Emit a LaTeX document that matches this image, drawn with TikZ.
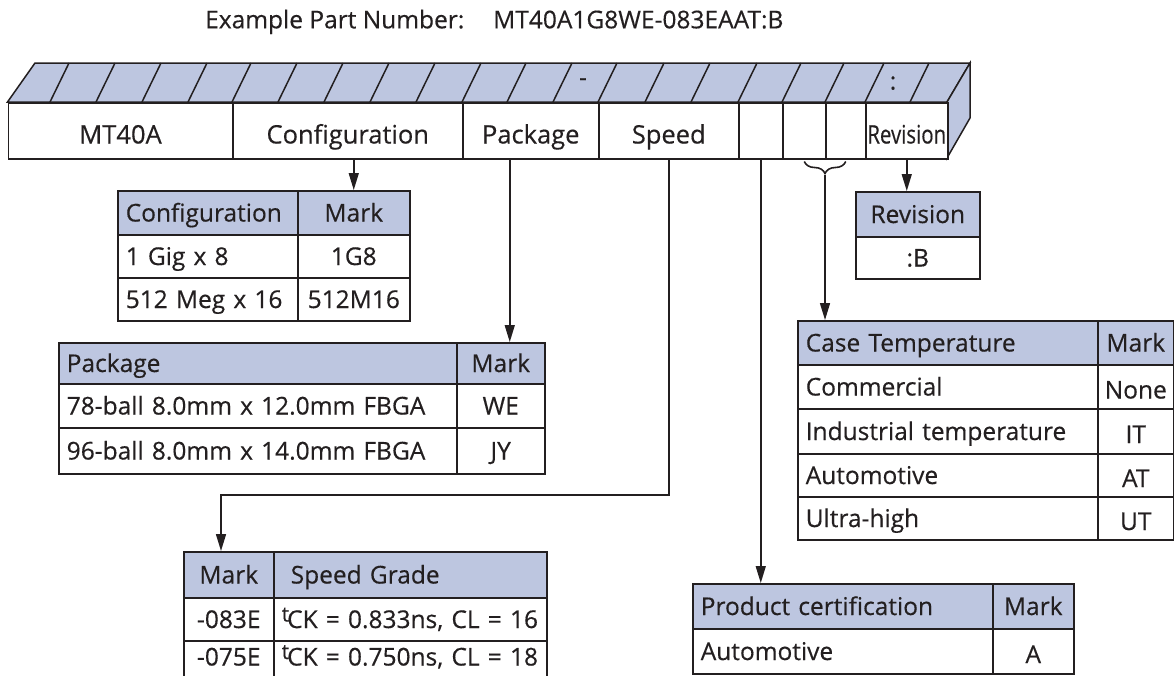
\documentclass[tikz,border=0pt]{standalone}
\usepackage{fontspec}
\setmainfont{Open Sans}[FakeBold=0.4]
\usetikzlibrary{arrows.meta,decorations.pathreplacing}

\definecolor{partblue}{RGB}{189,198,224}
\definecolor{ink}{RGB}{35,31,32}

% table cell: name, x1, y1, x2, y2, style, text
\newcommand{\tcell}[7]{%
  \pgfmathsetmacro{\cellw}{#4-#2-16}%
  \pgfmathsetmacro{\cellh}{#5-#3}%
  \node[cell, #6, text width=\cellw pt, minimum height=\cellh pt, anchor=north west] (#1) at (#2,#3) {#7};}
\newcommand{\tck}{\raisebox{6.5pt}{\fontsize{21}{21}\selectfont t}\kern-2pt}
\newcommand{\lowmark}[1]{\raisebox{-3pt}{\makebox[0pt]{#1}}}

\begin{document}
\begin{tikzpicture}[x=1pt, y=-1pt,
    every node/.style={font=\fontsize{24.5}{28}\selectfont, text=ink},
    cell/.style={draw=ink, line width=1.5pt, inner xsep=8pt, inner ysep=0pt, text height=17.5pt, text depth=0pt},
    hl/.style={fill=partblue, align=left},
    hc/.style={fill=partblue, align=center},
    bl/.style={fill=white, align=left},
    bc/.style={fill=white, align=center},
    bar/.style={fill=white, align=center, text height=25.5pt, font=\fontsize{25.5}{29}\selectfont},
    conn/.style={draw=ink, line width=1.5pt, -{Triangle[length=17pt,width=10pt]}},
    brace/.style={draw=ink, line width=1.6pt, decorate, decoration={brace, mirror, amplitude=12pt}}]
    \clip (0,0) rectangle (1174,675);

    \node[anchor=base west, inner sep=0pt] (title) at (205,28.3) {Example Part Number:};
    \node[anchor=base west, inner sep=0pt] (partno) at (493,28.3) {MT40A1G8WE-083EAAT:B};

    % the bar
    \draw[draw=ink, line width=1.5pt, fill=partblue] (7.5,102) -- (35,63) -- (970,63) -- (947,102) -- cycle;
    \draw[draw=ink, line width=1.5pt, fill=partblue] (947,102) -- (970,63) -- (970,118) -- (947,158) -- cycle;
    \foreach \x in {50,96,142,188,232,278,324,370,416,462,507,553,598,645,691,738,782,825,865,910}
        \draw[ink, line width=1.5pt] (\x,102) -- (\x+19,63);
    \node (dash) at (583,82) {-};
    \node (colon) at (893,83) {:};

    \tcell{mt}{7.5}{102}{232}{158}{bar}{MT40A}
    \tcell{conf}{232}{102}{462}{158}{bar}{Configuration}
    \tcell{pack}{462}{102}{598}{158}{bar}{Package}
    \tcell{speed}{598}{102}{738}{158}{bar}{Speed}
    \tcell{sfx1}{738}{102}{782}{158}{bar}{}
    \tcell{sfx2}{782}{102}{825}{158}{bar}{}
    \tcell{sfx3}{825}{102}{865}{158}{bar}{}
    \tcell{rev}{865}{102}{947}{158}{bar}{\makebox[0pt]{\scalebox{0.8}[1]{Revision}}}

    % configuration
    \tcell{cfgh}{117}{190}{297}{234}{hl}{Configuration}
    \tcell{cfgmark}{297}{190}{409}{234}{hc}{Mark}
    \tcell{cfga}{117}{234}{297}{277}{bl}{1 Gig x 8}
    \tcell{cfgam}{297}{234}{409}{277}{bc}{1G8}
    \tcell{cfgb}{117}{277}{297}{320}{bl}{512 Meg x 16}
    \tcell{cfgbm}{297}{277}{409}{320}{bc}{512M16}

    % package
    \tcell{pkgh}{58}{342}{456}{383}{hl}{Package}
    \tcell{pkgmark}{456}{342}{544}{383}{hc}{Mark}
    \tcell{pkga}{58}{383}{456}{427}{bl}{78-ball 8.0mm x 12.0mm FBGA}
    \tcell{pkgam}{456}{383}{544}{427}{bc}{WE}
    \tcell{pkgb}{58}{427}{456}{473}{bl}{96-ball 8.0mm x 14.0mm FBGA}
    \tcell{pkgbm}{456}{427}{544}{473}{bc}{JY}

    % speed
    \tcell{spdmark}{183}{551}{273}{597}{hc}{Mark}
    \tcell{spdh}{273}{551}{546}{597}{hl}{\hspace*{9pt}Speed Grade}
    \tcell{spda}{183}{597}{273}{640}{bc}{-083E}
    \tcell{spdat}{273}{597}{546}{640}{bl}{\tck CK = 0.833ns, CL = 16}
    \tcell{spdb}{183}{640}{273}{684}{bc}{\raisebox{6pt}{-075E}}
    \tcell{spdbt}{273}{640}{546}{684}{bl}{\raisebox{6pt}{\tck CK = 0.750ns, CL = 18}}

    % revision
    \tcell{revt}{855}{191}{979}{236}{hc}{Revision}
    \tcell{revb}{855}{236}{979}{278}{bc}{:B}

    % case temperature
    \tcell{tempt}{797}{320}{1097}{364}{hl}{Case Temperature}
    \tcell{tempm}{1097}{320}{1173}{364}{hc}{Mark}
    \tcell{tempa}{797}{364}{1097}{408}{bl}{Commercial}
    \tcell{tempam}{1097}{364}{1173}{408}{bc}{\lowmark{None}}
    \tcell{tempb}{797}{408}{1097}{453}{bl}{Industrial temperature}
    \tcell{tempbm}{1097}{408}{1173}{453}{bc}{\lowmark{IT}}
    \tcell{tempc}{797}{453}{1097}{496}{bl}{Automotive}
    \tcell{tempcm}{1097}{453}{1173}{496}{bc}{\lowmark{AT}}
    \tcell{tempd}{797}{496}{1097}{539}{bl}{Ultra-high}
    \tcell{tempdm}{1097}{496}{1173}{539}{bc}{\lowmark{UT}}

    % product certification
    \tcell{certt}{692}{583}{992}{628}{hl}{Product certification}
    \tcell{certm}{992}{583}{1073}{628}{hc}{Mark}
    \tcell{certa}{692}{628}{992}{673}{bl}{Automotive}
    \tcell{certam}{992}{628}{1073}{673}{bc}{\lowmark{A}}

    % connectors
    \draw[conn] (cfgmark.north |- conf.south) -- (cfgmark.north);
    \draw[conn] ([xshift=9pt]pkgmark.north |- pack.south) -- ([xshift=9pt]pkgmark.north);
    \coordinate (spdbend) at (221,495);
    \draw[conn] (speed.south) |- (spdbend) -- (spdbend |- spdmark.north);
    \draw[conn] (sfx1.south) -- (sfx1.south |- certt.north);
    \draw[brace] ([yshift=-2pt]sfx2.south) -- ([yshift=-2pt]sfx3.south);
    \coordinate (brtip) at ([yshift=-15pt]sfx3.south west);
    \draw[conn] (brtip) -- (brtip |- tempt.north);
    \draw[conn] (rev.south) -- (rev.south |- revt.north);
\end{tikzpicture}
\end{document}
